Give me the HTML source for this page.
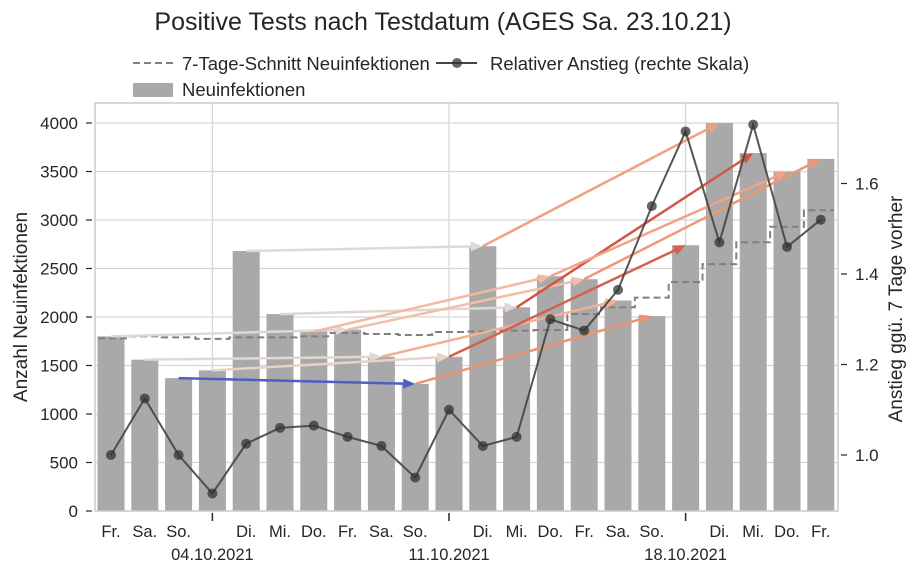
<!DOCTYPE html>
<html><head><meta charset="utf-8"><style>
body{margin:0;background:#fff;}
svg text{font-family:"Liberation Sans",sans-serif;fill:#262626;}
</style></head><body>
<svg id="chart" width="917" height="576" xmlns="http://www.w3.org/2000/svg">
<rect width="917" height="576" fill="#fff"/>
<text x="443" y="30" font-size="25" text-anchor="middle">Positive Tests nach Testdatum (AGES Sa. 23.10.21)</text>
<g>
<line x1="133" y1="63" x2="173" y2="63" stroke="#808080" stroke-width="2" stroke-dasharray="7,4"/>
<text x="182" y="70" font-size="18.5">7-Tage-Schnitt Neuinfektionen</text>
<rect x="133" y="83" width="40" height="14" fill="#a9a9a9"/>
<text x="182" y="96" font-size="18.5">Neuinfektionen</text>
<line x1="436" y1="63" x2="477" y2="63" stroke="#444" stroke-width="2"/>
<circle cx="457" cy="63" r="5" fill="#333" fill-opacity="0.75"/>
<text x="490" y="70" font-size="18.5">Relativer Anstieg (rechte Skala)</text>
</g>
<g id="plot"></g>
<text transform="translate(27,307) rotate(-90)" font-size="19" text-anchor="middle">Anzahl Neuinfektionen</text>
<text transform="translate(902,309) rotate(-90)" font-size="19" text-anchor="middle">Anstieg ggü. 7 Tage vorher</text>
</svg>
<script>
const dayLabels=["Fr.","Sa.","So.","","Di.","Mi.","Do.","Fr.","Sa.","So.","","Di.","Mi.","Do.","Fr.","Sa.","So.","","Di.","Mi.","Do.","Fr."];
const dateLabels=["04.10.2021","11.10.2021","18.10.2021"];
const dateIdx=[3,10,17];
const cases=[1800,1560,1370,1450,2680,2030,1850,1870,1590,1310,1590,2730,2100,2420,2390,2170,2010,2740,4000,3690,3500,3630];
const avg7=[1780,1800,1790,1775,1790,1790,1800,1835,1825,1815,1845,1850,1860,1866,2030,2100,2200,2360,2545,2770,2930,3100];
const ratio=[1.0,1.125,1.0,0.915,1.025,1.06,1.065,1.04,1.02,0.95,1.10,1.02,1.04,1.30,1.275,1.365,1.55,1.715,1.47,1.73,1.46,1.52];
const leftTicks=[0,500,1000,1500,2000,2500,3000,3500,4000];
const rightTicks=[1.0,1.2,1.4,1.6];

const L=95,R=838,T=103,B=511;
const X=i=>111+i*33.8;
const Y=v=>B-v*0.097;
const Y2=r=>455-(r-1.0)*452.5;
const NS="http://www.w3.org/2000/svg";
const g=document.getElementById('plot');
function mk(tag,attrs,parent){const e=document.createElementNS(NS,tag);for(const k in attrs)e.setAttribute(k,attrs[k]);(parent||g).appendChild(e);return e;}
function hex(c){return [1,3,5].map(i=>parseInt(c.substr(i,2),16));}
function lerp(a,b,t){const A=hex(a),Bc=hex(b);return 'rgb('+A.map((v,i)=>Math.round(v+(Bc[i]-v)*t)).join(',')+')';}
function cmap(r){const st=[[0.95,'#3b4cc0'],[1.0,'#dcdad8'],[1.2,'#f2cbb7'],[1.5,'#f09c7b'],[1.8,'#cc4b3c']];
 if(r<=st[0][0])return st[0][1];for(let k=1;k<st.length;k++){if(r<=st[k][0]){return lerp(st[k-1][1],st[k][1],(r-st[k-1][0])/(st[k][0]-st[k-1][0]));}}return st[st.length-1][1];}

leftTicks.forEach(v=>{const l=mk('line',{x1:L,x2:R,y1:Y(v),y2:Y(v),stroke:'#d6d6d6','stroke-width':1.3});});
dateIdx.forEach(i=>{const l=mk('line',{x1:X(i),x2:X(i),y1:T,y2:B,stroke:'#d6d6d6','stroke-width':1.3});});
cases.forEach((v,i)=>{const r=mk('rect',{x:X(i)-13.5,y:Y(v),width:27,height:B-Y(v),fill:'#a9a9a9'});});
let d='';avg7.forEach((v,i)=>{const x0=i===0?X(0)-13:X(i)-16.9,x1=i===avg7.length-1?X(i)+13:X(i)+16.9;d+=(i===0?'M':'L')+x0+','+Y(v)+'L'+x1+','+Y(v);});
const sl=mk('path',{d:d,fill:'none',stroke:'#808080','stroke-width':2,'stroke-dasharray':'7,4'});

for(let i=7;i<cases.length;i++){
 const x0=X(i-7),y0=Y(cases[i-7]),x1=X(i),y1=Y(cases[i]);
 const c=cmap(cases[i]/cases[i-7]);
 const dx=x1-x0,dy=y1-y0,len=Math.hypot(dx,dy),ux=dx/len,uy=dy/len;
 const hl=12,hw=5,bx=x1-ux*hl,by=y1-uy*hl;
 const a=mk('g',{});
 mk('line',{x1:x0,y1:y0,x2:bx,y2:by,stroke:c,'stroke-width':2.5},a);
 mk('polygon',{points:`${x1},${y1} ${bx-uy*hw},${by+ux*hw} ${bx+uy*hw},${by-ux*hw}`,fill:c},a);
}
const rl=mk('polyline',{points:ratio.map((r,i)=>X(i)+','+Y2(r)).join(' '),fill:'none',stroke:'#444','stroke-width':2,'stroke-opacity':0.9});

ratio.forEach((r,i)=>{const c=mk('circle',{cx:X(i),cy:Y2(r),r:5,fill:'#333','fill-opacity':0.75});});
const fr=mk('rect',{x:L,y:T,width:R-L,height:B-T,fill:'none',stroke:'#cccccc','stroke-width':1.5});

leftTicks.forEach(v=>{mk('line',{x1:L-9,x2:L-3,y1:Y(v),y2:Y(v),stroke:'#262626','stroke-width':1.2});const t=mk('text',{x:L-17,y:Y(v)+6,'font-size':17,'text-anchor':'end'});t.textContent=v;});
rightTicks.forEach(r=>{mk('line',{x1:R+3,x2:R+9,y1:Y2(r),y2:Y2(r),stroke:'#262626','stroke-width':1.2});const t=mk('text',{x:R+17,y:Y2(r)+6,'font-size':17});t.textContent=r.toFixed(1);});
dayLabels.forEach((s,i)=>{if(!s)return;const t=mk('text',{x:X(i),y:537,'font-size':16.5,'text-anchor':'middle'});t.textContent=s;});
dateIdx.forEach((i,k)=>{mk('line',{x1:X(i),x2:X(i),y1:B+2,y2:B+10,stroke:'#262626','stroke-width':1.5});const t=mk('text',{x:X(i),y:560,'font-size':16.5,'text-anchor':'middle'});t.textContent=dateLabels[k];});
</script>
</body></html>
